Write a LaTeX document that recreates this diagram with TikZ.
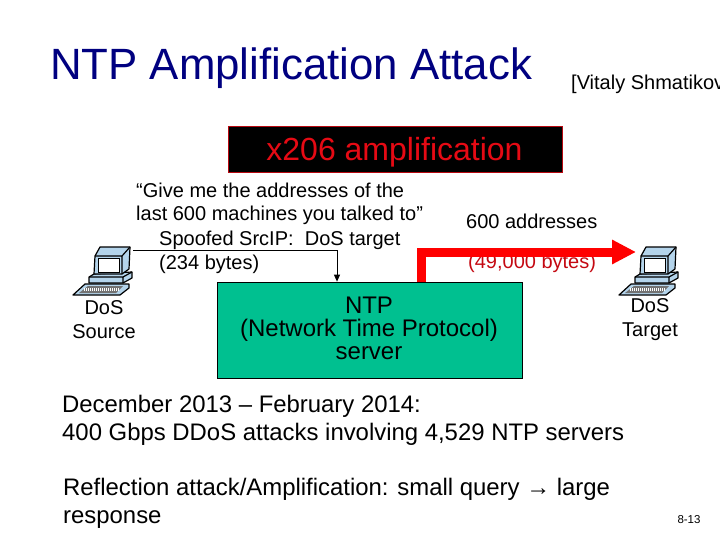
\documentclass[tikz,border=0pt]{standalone}
\usepackage{fontspec}
\setmainfont{Liberation Sans}
\usetikzlibrary{arrows.meta}
\definecolor{titleblue}{RGB}{0,0,128}
\definecolor{srvgreen}{RGB}{0,192,144}
\definecolor{ampred}{RGB}{230,10,20}
\definecolor{scrblue}{RGB}{180,212,235}
\newcommand{\fs}[1]{\fontsize{#1}{#1}\selectfont}
\tikzset{
  x=1pt,y=-1pt,
  lbl/.style={inner sep=0pt,align=center,text=black,font=\fontsize{20}{24}\selectfont},
  lead/.style={inner sep=0pt,anchor=base west,text=black,font=\fs{20}},
  body/.style={inner sep=0pt,anchor=base west,text=black,font=\fs{23.9}},
  pcline/.style={draw=black,line width=1.2pt,line join=round},
  pc/.pic={
    % keyboard
    \fill[scrblue,pcline] (0,48) -- (12,37) -- (56,37) -- (56,41) -- (47,48) -- cycle;
    \fill[black!55] (6,46) -- (15,39) -- (50,39) -- (43,46) -- cycle;
    \draw[white,dash pattern=on 1pt off 1pt,line width=2.5pt] (11,42.5) -- (46,42.5);
    % base
    \fill[scrblue,pcline] (16,30) -- (21,27) -- (59,25) -- (59,31) -- (50,36) -- (16,36) -- cycle;
    \draw[pcline] (16,30) -- (50,30) -- (59,25) (50,30) -- (50,36);
    % monitor
    \fill[scrblue,pcline] (22,9) -- (27,0) -- (57,0) -- (56,22) -- (49,27) -- (21,27) -- cycle;
    \draw[pcline] (22,9) -- (49,9) -- (57,0) (49,9) -- (49,27);
    \fill[white,draw=black,line width=0.8pt] (25,11) rectangle (46,25);
  }
}
\begin{document}
\begin{tikzpicture}
\useasboundingbox (0,0) rectangle (720,540);
\clip (0,0) rectangle (720,540);
\node[inner sep=0pt,anchor=base west,text=titleblue,font=\fs{43.8}] (title) at (50,80) {NTP Amplification Attack};
\node[inner sep=0pt,anchor=base west,text=black,font=\fs{20}] (cite) at (571,90) {[Vitaly Shmatikov};
\node[draw=ampred!80!black,line width=1pt,fill=black,minimum width=334,minimum height=46,inner sep=0pt] (amp) at (395.5,150) {};
\node[inner sep=0pt,anchor=base,text=ampred,font=\fs{32}] (ampt) at (394.5,161) {x206 amplification};

\node[lead] (q1) at (136,197) {“Give me the addresses of the};
\node[lead] (q2) at (136,221) {last 600 machines you talked to”};
\node[lead] (q3) at (159,245) {Spoofed SrcIP:\ \ DoS target};
\node[lead] (q4) at (159,269) {(234 bytes)};
\node[lead] (r1) at (466,229) {600 addresses};
\node[lead,text=ampred!85!black] (r2) at (468,268) {(49,000 bytes)};

\node[draw=black,line width=0.7pt,fill=srvgreen,minimum width=305,minimum height=96,inner sep=0pt] (ntp) at (369.5,330) {};
\node[inner sep=0pt,align=center,text=black,font=\fontsize{24}{23}\selectfont] (ntpt) at (369,328) {NTP\\(Network Time Protocol)\\server};

\pic (src) at (73,247) {pc};
\pic (tgt) at (619,247) {pc};
\coordinate (srcport) at (133,250);
\coordinate (tgtport) at (636,252);
\coordinate (qdrop) at (337,250);
\coordinate (rup) at (421.5,252);

\node[lbl] (s) at (104,320) {DoS\\Source};
\node[lbl] (t) at (650,320) {DoS\\Target};

\draw[black,line width=0.9pt,-{Triangle[length=7pt,width=6pt]}] (srcport) -- (qdrop) -- (qdrop |- ntp.north);
\draw[draw=red,line width=9pt,-{Triangle[length=24pt,width=23pt,fill=red]},line join=miter]
  (rup |- ntp.north) -- (rup) -- (tgtport);

\node[body] (d1) at (62,412) {December 2013 – February 2014:};
\node[body] (d2) at (62,440) {400 Gbps DDoS attacks involving 4,529 NTP servers};
\node[body] (e1) at (63,495) {Reflection attack/Amplification: small query → large};
\node[body] (e2) at (63,523) {response};
\node[inner sep=0pt,text=black,font=\fs{11.5}] (pg) at (689,520) {8-13};
\end{tikzpicture}
\end{document}
